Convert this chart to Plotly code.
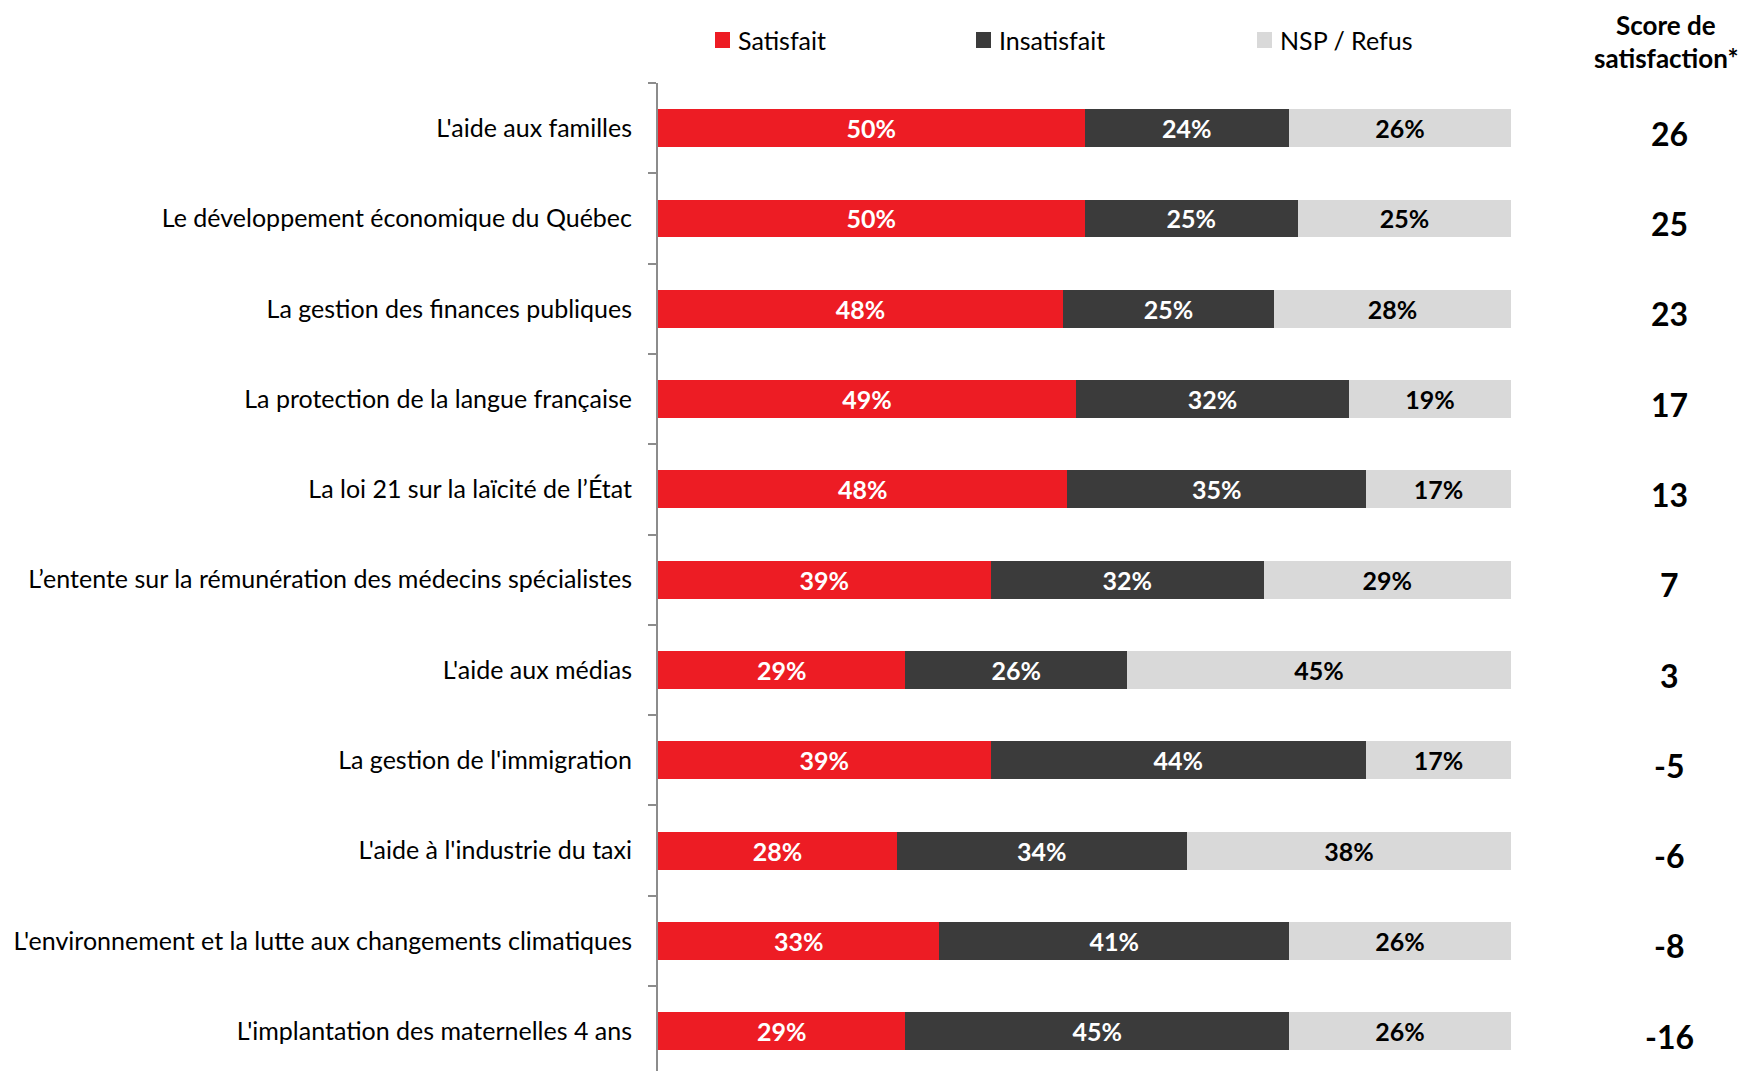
import plotly.graph_objects as go

categories = [
    "L'aide aux familles",
    "Le développement économique du Québec",
    "La gestion des finances publiques",
    "La protection de la langue française",
    "La loi 21 sur la laïcité de l’État",
    "L’entente sur la rémunération des médecins spécialistes",
    "L'aide aux médias",
    "La gestion de l'immigration",
    "L'aide à l'industrie du taxi",
    "L'environnement et la lutte aux changements climatiques",
    "L'implantation des maternelles 4 ans",
]
satisfait = [50, 50, 47.5, 49, 48, 39, 29, 39, 28, 33, 29]
insatisfait = [24, 25, 24.7, 32, 35, 32, 26, 44, 34, 41, 45]
nsp = [26, 25, 27.8, 19, 17, 29, 45, 17, 38, 26, 26]
scores = [26, 25, 23, 17, 13, 7, 3, -5, -6, -8, -16]
series_names = ["Satisfait", "Insatisfait", "NSP / Refus"]
score_header = ["Score de", "satisfaction*"]

FONT = "Lato"
RED = "#ED1C24"
DARK = "#3B3B3B"
LIGHT = "#D9D9D9"
COLORS = [RED, DARK, LIGHT]
TEXTCOL = ["white", "white", "black"]

# page geometry (browser body has an 8px margin)
OFF = 8
W, H = 1748 - OFF, 1071 - OFF
ML, MR, MT, MB = 650, 237, 75, 0
PX0, PX1 = OFF + ML, OFF + W - MR      # plot area in page px
PY0, PY1 = OFF + MT, OFF + H - MB


def px2x(px):
    return (px - PX0) / (PX1 - PX0)


def py2y(py):
    return (PY1 - py) / (PY1 - PY0)


fig = go.Figure()
for name, vals, col, tcol in zip(series_names, [satisfait, insatisfait, nsp], COLORS, TEXTCOL):
    fig.add_trace(go.Bar(
        name=name, y=categories, x=vals, orientation="h",
        marker=dict(color=col, line=dict(width=0)),
        texttemplate="%{x:.0f}%", textposition="inside",
        insidetextanchor="middle", constraintext="none",
        textfont=dict(family=FONT, size=25, color=tcol, weight="bold"),
        hoverinfo="skip", showlegend=False,
    ))

# custom legend
leg_sq_left = [715, 976, 1257]
for name, col, sx in zip(series_names, COLORS, leg_sq_left):
    fig.add_shape(type="rect", xref="paper", yref="paper",
                  x0=px2x(sx), x1=px2x(sx + 15), y0=py2y(48), y1=py2y(32),
                  fillcolor=col, line=dict(width=0))
    fig.add_annotation(x=px2x(sx + 21), y=py2y(40), xref="paper", yref="paper",
                       text=name, showarrow=False, xanchor="left", yanchor="middle",
                       font=dict(family=FONT, size=25, color="black"))

# score column
SX = px2x(1669)
for cat, s in zip(categories, scores):
    fig.add_annotation(
        x=SX, xref="paper", y=cat, yref="y", text=str(s),
        showarrow=False, xanchor="center", yanchor="middle", yshift=-5,
        font=dict(family=FONT, size=32, color="black", weight="bold"),
    )
for line, cy in zip(score_header, [25, 58]):
    fig.add_annotation(
        x=px2x(1666), xref="paper", y=py2y(cy), yref="paper", yanchor="middle",
        text=line, showarrow=False, xanchor="center",
        font=dict(family=FONT, size=26, color="black", weight="bold"),
    )

fig.update_layout(
    width=W, height=H,
    margin=dict(l=ML, r=MR, t=MT, b=MB),
    barmode="stack", bargap=0.58,
    plot_bgcolor="white", paper_bgcolor="white",
    font=dict(family=FONT, color="black"),
    showlegend=False,
    xaxis=dict(range=[0, 100], visible=False, fixedrange=True),
    yaxis=dict(
        type="category", range=[10.44, -0.5],
        showline=True, linecolor="#8C8C8C", linewidth=2,
        ticks="outside", tickson="boundaries", ticklen=8,
        tickcolor="#8C8C8C", tickwidth=2,
        tickfont=dict(family=FONT, size=25, color="black"),
        ticklabelstandoff=19, showgrid=False, fixedrange=True,
    ),
)

fig.write_html("out.html")
